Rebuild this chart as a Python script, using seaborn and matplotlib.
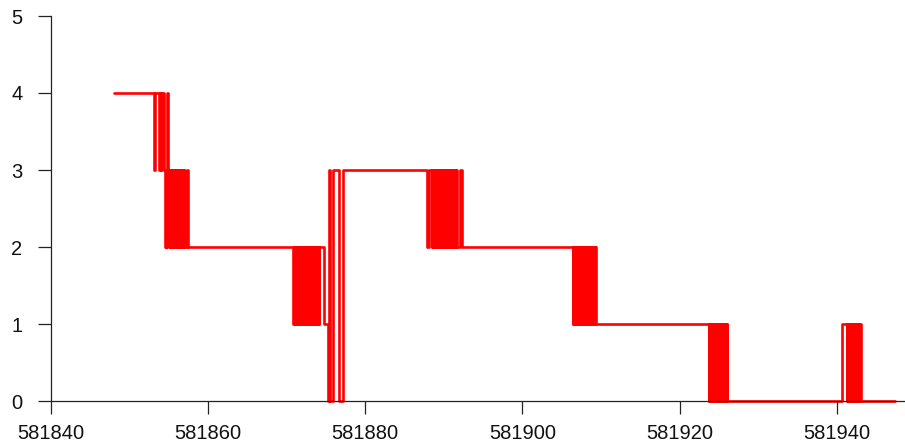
import pandas as pd
import matplotlib
matplotlib.use('Agg')
import matplotlib.pyplot as plt
import seaborn as sns

# change points of the state series (value holds until the next time)
times = [
    581848.0,
    # 4 -> 3 flicker
    581853.15, 581853.3, 581853.75, 581853.9, 581854.0, 581854.15, 581854.4,
    # 3 <-> 2 burst
    581854.5, 581854.6, 581854.7, 581854.8, 581854.9, 581855.0, 581855.1,
    581855.2, 581855.3, 581855.4, 581855.5, 581855.6, 581855.7, 581855.8,
    581855.9, 581856.0, 581856.1, 581856.2, 581856.3, 581856.4, 581856.5,
    581856.6, 581856.7, 581856.8, 581856.9, 581857.0, 581857.35, 581857.5,
    # 2 <-> 1 burst
    581870.85, 581870.95, 581871.05, 581871.15, 581871.25, 581871.35,
    581871.45, 581871.55, 581871.65, 581871.75, 581871.85, 581871.95,
    581872.05, 581872.15, 581872.25, 581872.35, 581872.45, 581872.55,
    581872.65, 581872.75, 581872.85, 581872.95, 581873.05, 581873.15,
    581873.25, 581873.35, 581873.45, 581873.55, 581873.65, 581873.75,
    581873.85, 581873.95, 581874.05, 581874.15, 581874.8,
    # drops to 0 and jump to 3
    581875.24, 581875.35, 581875.5, 581875.9, 581876.69, 581877.13,
    # 3 <-> 2 burst
    581887.8, 581888.15,
    581888.45, 581888.55, 581888.65, 581888.75, 581888.85, 581888.95,
    581889.05, 581889.15, 581889.25, 581889.35, 581889.45, 581889.55,
    581889.65, 581889.75, 581889.85, 581889.95, 581890.05, 581890.15,
    581890.25, 581890.35, 581890.45, 581890.55, 581890.65, 581890.75,
    581890.85, 581890.95, 581891.05, 581891.15, 581891.25, 581891.35,
    581891.45, 581891.55, 581891.65, 581892.0, 581892.27,
    # 2 <-> 1 burst
    581906.4, 581906.5, 581906.6, 581906.7, 581906.8, 581906.9,
    581907.0, 581907.1, 581907.2, 581907.3, 581907.4, 581907.5,
    581907.6, 581907.7, 581907.8, 581907.9, 581908.0, 581908.1,
    581908.2, 581908.3, 581908.4, 581908.5, 581908.6, 581908.7,
    581908.8, 581908.9, 581909.0, 581909.1, 581909.2, 581909.3,
    581909.4,
    # 1 <-> 0 burst
    581923.7, 581923.8, 581923.9, 581924.0, 581924.1, 581924.2,
    581924.3, 581924.4, 581924.5, 581924.6, 581924.7, 581924.8,
    581924.9, 581925.0, 581925.1, 581925.2, 581925.3, 581925.4,
    581925.5, 581925.6, 581925.7, 581925.8, 581925.9, 581926.0,
    581926.1,
    # 0 <-> 1 burst
    581940.63,
    581941.27, 581941.37, 581941.47, 581941.57, 581941.67, 581941.77,
    581941.87, 581941.97, 581942.07, 581942.17, 581942.27, 581942.37,
    581942.47, 581942.57, 581942.67, 581942.77, 581942.87, 581942.97,
    581943.07,
    581947.4,
]
levels = [
    4,
    3, 4, 3, 4, 3, 4, 3,
    2, 3, 2, 4, 3, 2, 3,
    2, 3, 2, 3, 2, 3, 2,
    3, 2, 3, 2, 3, 2, 3,
    2, 3, 2, 3, 2, 3, 2,
    1, 2, 1, 2, 1, 2,
    1, 2, 1, 2, 1, 2,
    1, 2, 1, 2, 1, 2,
    1, 2, 1, 2, 1, 2,
    1, 2, 1, 2, 1, 2,
    1, 2, 1, 2, 1,
    0, 3, 0, 3, 0, 3,
    2, 3,
    2, 3, 2, 3, 2, 3,
    2, 3, 2, 3, 2, 3,
    2, 3, 2, 3, 2, 3,
    2, 3, 2, 3, 2, 3,
    2, 3, 2, 3, 2, 3,
    2, 3, 2, 3, 2,
    1, 2, 1, 2, 1, 2,
    1, 2, 1, 2, 1, 2,
    1, 2, 1, 2, 1, 2,
    1, 2, 1, 2, 1, 2,
    1, 2, 1, 2, 1, 2,
    1,
    0, 1, 0, 1, 0, 1,
    0, 1, 0, 1, 0, 1,
    0, 1, 0, 1, 0, 1,
    0, 1, 0, 1, 0, 1,
    0,
    1,
    0, 1, 0, 1, 0, 1,
    0, 1, 0, 1, 0, 1,
    0, 1, 0, 1, 0, 1,
    0,
    0,
]

x_ticks = [581840, 581860, 581880, 581900, 581920, 581940]
y_ticks = [0, 1, 2, 3, 4, 5]

df = pd.DataFrame({'time': times, 'level': levels})

sns.set_style('ticks')
plt.rcParams['font.family'] = ['Liberation Sans', 'DejaVu Sans']

fig = plt.figure(figsize=(9.05, 4.44), dpi=100)
ax = fig.add_axes([51 / 905, 43 / 444, 1 - 51 / 905, 385 / 444])

sns.lineplot(data=df, x='time', y='level', drawstyle='steps-post', color='red',
             lw=1.9, estimator=None, sort=False, ax=ax, clip_on=False)

ax.set_xlim(581840, 581948.7)
ax.set_ylim(0, 5)
ax.set_xticks(x_ticks)
ax.set_yticks(y_ticks)
ax.set_xticklabels([str(t) for t in x_ticks])
ax.set_xlabel('')
ax.set_ylabel('')
sns.despine(ax=ax)
for s in ['left', 'bottom']:
    ax.spines[s].set_color('#222222')
    ax.spines[s].set_linewidth(0.9)
ax.tick_params(axis='both', length=9.5, width=0.9, color='#222222', labelsize=14.5, labelcolor='#111111')
ax.tick_params(axis='y', pad=11)
ax.tick_params(axis='x', pad=7)

fig.savefig('out.png', dpi=100)
